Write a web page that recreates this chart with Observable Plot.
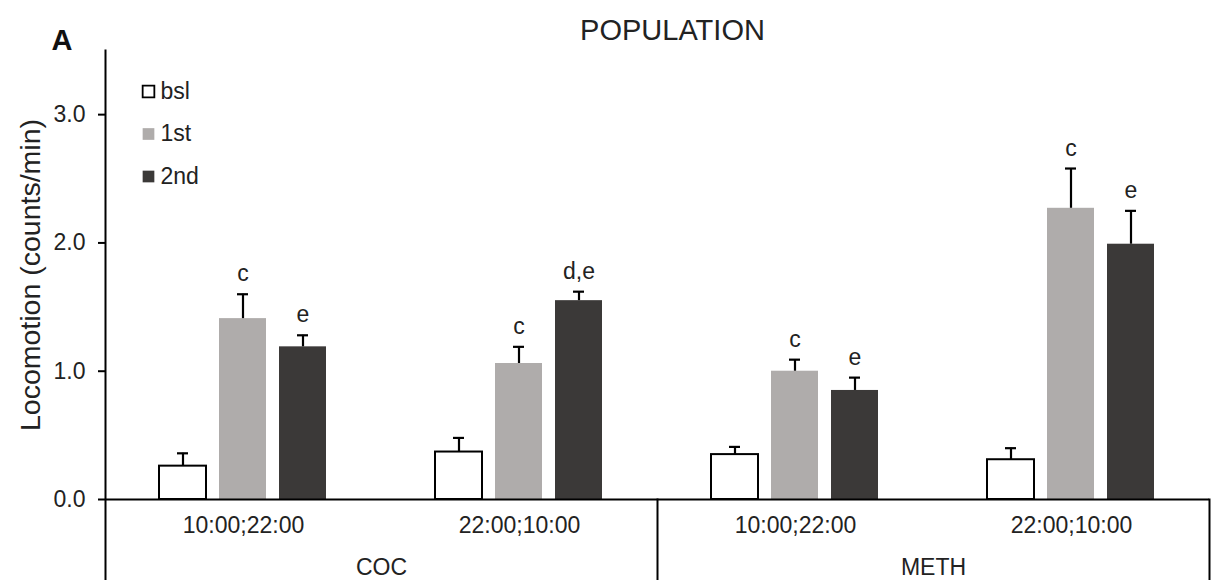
<!DOCTYPE html>
<html><head><meta charset="utf-8">
<script src="https://cdn.jsdelivr.net/npm/d3@7"></script>
<script src="https://cdn.jsdelivr.net/npm/@observablehq/plot@0.6"></script>
<style>body{margin:0;background:#fff;}</style>
</head><body><div id="chart"></div>
<script>
// ---- data ----
const drugs = ["COC", "COC", "METH", "METH"];
const times = ["10:00;22:00", "22:00;10:00", "10:00;22:00", "22:00;10:00"];
const series = ["bsl", "1st", "2nd"];
const meanBsl = [0.26, 0.37, 0.35, 0.31];
const mean1st = [1.41, 1.06, 1.00, 2.27];
const mean2nd = [1.19, 1.55, 0.85, 1.99];
const seBsl = [0.10, 0.11, 0.06, 0.09];
const se1st = [0.19, 0.13, 0.09, 0.31];
const se2nd = [0.09, 0.07, 0.10, 0.26];
const lettersBsl = ["", "", "", ""];
const letters1st = ["c", "c", "c", "c"];
const letters2nd = ["e", "d,e", "e", "e"];
const yTicks = [0, 1, 2, 3];
const titleText = "POPULATION";
const panelText = "A";
const yLabel = "Locomotion (counts/min)";
const colors = ["#ffffff", "#AFACAB", "#3B3938"];

// ---- layout ----
const W = 1211, H = 580, ML = 104, MR = 1, MT = 50, MB = 81;
const INK = "#222";
const FONT = "'Liberation Sans', Arial, sans-serif";

const means = [meanBsl, mean1st, mean2nd];
const ses = [seBsl, se1st, se2nd];
const letters = [lettersBsl, letters1st, letters2nd];
const keys = drugs.map((d, i) => d + " " + times[i]);
const timeOf = Object.fromEntries(keys.map((k, i) => [k, times[i]]));
const rows = [];
keys.forEach((k, i) => series.forEach((s, j) => rows.push({
  key: k, series: s, mean: means[j][i], upper: means[j][i] + ses[j][i], letter: letters[j][i]
})));
const uniqueDrugs = [...new Set(drugs)];
const drugStartKey = d => keys[drugs.indexOf(d)];
const frameH = H - MT - MB;

const marks = [
  // bars
  Plot.barY(rows, {filter: d => d.series !== "bsl", fx: "key", x: "series", y: "mean", fill: "series"}),
  Plot.barY(rows, {filter: d => d.series === "bsl", fx: "key", x: "series", y: "mean", fill: "white", stroke: "black", strokeWidth: 2}),
  // error bars
  Plot.ruleX(rows, {fx: "key", x: "series", y1: "mean", y2: "upper", stroke: "black", strokeWidth: 2.2}),
  Plot.tickY(rows, {fx: "key", x: "series", y: "upper", stroke: "black", strokeWidth: 2.2, insetLeft: 18, insetRight: 18}),
  // significance letters
  Plot.text(rows, {filter: d => d.letter, fx: "key", x: "series", y: "upper", text: "letter", dy: -13, lineAnchor: "bottom", fontSize: 23, fill: INK}),
  // baseline
  Plot.ruleY([0], {stroke: "black", strokeWidth: 2}),
  // left axis line, extending down through the category table
  Plot.frame({anchor: "left", fx: () => keys[0], insetBottom: -MB, stroke: "black", strokeWidth: 2}),
  // separators below the axis
  ...uniqueDrugs.slice(1).map(d => Plot.frame({anchor: "left", fx: () => drugStartKey(d), insetTop: frameH, insetBottom: -MB, stroke: "black", strokeWidth: 2})),
  Plot.frame({anchor: "right", fx: () => keys[keys.length - 1], insetTop: frameH, insetBottom: -MB, stroke: "black", strokeWidth: 2}),
  // y axis
  Plot.axisY({ticks: yTicks, tickFormat: d => d.toFixed(1), tickSize: 7, tickPadding: 13, fontSize: 23, label: null, stroke: "black", strokeWidth: 2, fill: INK}),
  Plot.text([yLabel], {fx: () => keys[0], frameAnchor: "left", dx: -75, rotate: -90, textAnchor: "middle", lineAnchor: "middle", fontSize: 28.5, fill: INK}),
  // fx axis (time labels)
  Plot.axisFx({anchor: "bottom", tickSize: 0, tickPadding: 17, tickFormat: k => timeOf[k], fontSize: 23, label: null, fill: INK}),
  // drug labels
  Plot.text(uniqueDrugs, {fx: d => drugStartKey(d), frameAnchor: "bottom-right", dy: 75, lineAnchor: "bottom", textAnchor: "middle", fontSize: 23, fill: INK}),
  // title & panel letter
  Plot.text([titleText], {fx: () => keys[1], frameAnchor: "top-right", dx: 15, dy: -11, lineAnchor: "bottom", textAnchor: "middle", fontSize: 29, fill: INK}),
  Plot.text([panelText], {fx: () => keys[0], frameAnchor: "top-left", dx: -54, dy: -1, lineAnchor: "bottom", textAnchor: "start", fontSize: 29, fontWeight: "bold", fill: "#111"}),
  // legend
  ...series.map((s, i) => Plot.dot([s], {fx: () => keys[0], frameAnchor: "top-left", dx: 43, dy: 41 + 42.5 * i, symbol: "square", r: 6.6,
    fill: colors[i], stroke: i === 0 ? "black" : "none", strokeWidth: 1.8})),
  ...series.map((s, i) => Plot.text([s], {fx: () => keys[0], frameAnchor: "top-left", dx: 55, dy: 41 + 42.5 * i, textAnchor: "start", lineAnchor: "middle", fontSize: 23, fill: INK}))
];

const chart = Plot.plot({
  width: W, height: H,
  marginLeft: ML, marginRight: MR, marginTop: MT, marginBottom: MB,
  style: {fontFamily: FONT, fontSize: "23px", background: "white", color: INK, overflow: "visible"},
  fx: {domain: keys, padding: 0, axis: null},
  x: {domain: series, paddingInner: 0.213, paddingOuter: 0.87, axis: null},
  y: {domain: [0, 3.5], axis: null},
  color: {domain: series, range: colors},
  marks
});
document.getElementById("chart").appendChild(chart);
</script>
</body></html>
